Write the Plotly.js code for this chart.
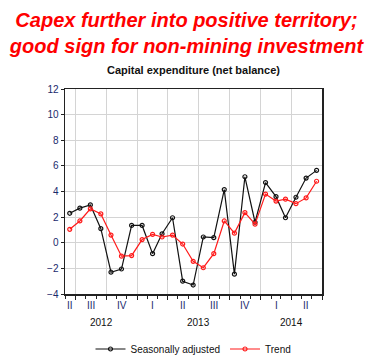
<!DOCTYPE html>
<html><head><meta charset="utf-8">
<script src="https://cdn.plot.ly/plotly-3.0.1.min.js"></script>
<style>html,body{margin:0;padding:0;background:#fff}#chart{width:373px;height:364px}</style>
</head><body><div id="chart"></div>
<script>
const months = ['2012-06','2012-07','2012-08','2012-09','2012-10','2012-11','2012-12',
  '2013-01','2013-02','2013-03','2013-04','2013-05','2013-06','2013-07','2013-08','2013-09','2013-10','2013-11','2013-12',
  '2014-01','2014-02','2014-03','2014-04','2014-05','2014-06'];
const seasonallyAdjusted = [2.3,2.7,2.95,1.1,-2.3,-2.05,1.35,1.35,-0.85,0.7,1.95,-3.0,-3.3,0.45,0.4,4.15,-2.45,5.15,1.6,4.7,3.6,1.95,3.55,5.05,5.65];
const trend = [1.05,1.7,2.65,2.25,0.6,-1.05,-1.0,0.25,0.65,0.45,0.6,-0.1,-1.45,-1.95,-0.85,1.7,0.75,2.35,1.45,3.8,3.25,3.4,3.05,3.5,4.8];
const quarters = ['2012-Q2','2012-Q3','2012-Q4','2013-Q1','2013-Q2','2013-Q3','2013-Q4','2014-Q1','2014-Q2'];
const years = ['2012','2013','2014'];
const romans = {1:'I',2:'II',3:'III',4:'IV'};

const xStart = '2012-06-01', xEnd = '2014-07-01';
const toMs = s => new Date(s + 'T00:00:00Z').getTime();
const fmt = ms => new Date(ms).toISOString().slice(0,10);
const clampMid = (a,b) => { const s = Math.max(toMs(a), toMs(xStart)), e = Math.min(toMs(b), toMs(xEnd)); return fmt((s+e)/2); };
const xs = months.map(m => m + '-15');

const navy = '#1a2a6c';
const plotTop = 89, plotBot = 294;
const py = px => (plotBot - px) / (plotBot - plotTop);
const annotations = [];
quarters.forEach(q => {
  const y = +q.slice(0,4), n = +q.slice(6);
  const sm = String(3*(n-1)+1).padStart(2,'0');
  const endY = n === 4 ? y+1 : y, em = n === 4 ? '01' : String(3*n+1).padStart(2,'0');
  annotations.push({x: clampMid(`${y}-${sm}-01`, `${endY}-${em}-01`), y: py(305), xref:'x', yref:'paper', text: romans[n], showarrow:false,
    font:{family:'Liberation Sans, Arial', size:10, color:navy}, yanchor:'middle'});
});
years.forEach(y => {
  annotations.push({x: clampMid(`${y}-01-01`, `${+y+1}-01-01`), y: py(322), xref:'x', yref:'paper', text: y, showarrow:false,
    font:{family:'Liberation Sans, Arial', size:10, color:'#111'}, yanchor:'middle'});
});
annotations.push({x:0.5, y:py(70), xref:'paper', yref:'paper', yanchor:'middle', text:'<b>Capital expenditure (net balance)</b>', showarrow:false,
  font:{family:'Liberation Sans, Arial', size:11, color:'#111'}});

const traces = [
  {x: xs, y: seasonallyAdjusted, name:'Seasonally adjusted', type:'scatter', mode:'lines+markers',
   line:{color:'#111', width:1.2}, marker:{symbol:'circle-open', size:4, color:'#111', line:{width:1.2}}},
  {x: xs, y: trend, name:'Trend', type:'scatter', mode:'lines+markers',
   line:{color:'#ff1a1a', width:1.2}, marker:{symbol:'circle-open', size:4, color:'#ff1a1a', line:{width:1.2}}}
];

const layout = {
  width:373, height:364,
  margin:{l:65, r:51, t:89, b:70, autoexpand:false},
  paper_bgcolor:'#fff', plot_bgcolor:'#fff',
  font:{family:'Liberation Sans, Arial', size:10, color:navy},
  title:{text:'<b><i>Capex further into positive territory;<br>good sign for non-mining investment</i></b>',
    font:{family:'Liberation Sans, Arial', size:20, color:'#ff0000'}, x:0.5, xanchor:'center', xref:'container',
    y:1 - 27/364, yref:'container', yanchor:'middle'},
  xaxis:{type:'date', range:[xStart, xEnd], tick0:'2012-07-01', dtick:'M3', showgrid:true, gridcolor:'#d4d4d4', gridwidth:1.2,
    showticklabels:false, ticks:'outside', ticklen:4, tickcolor:'#222', tickwidth:1,
    showline:true, mirror:true, linecolor:'#222', linewidth:1.5, zeroline:false, fixedrange:true,
    minor:{dtick:'M1', tick0:'2012-06-01', ticks:'outside', ticklen:3, tickcolor:'#222', showgrid:false}},
  yaxis:{range:[-4,12], dtick:2, tick0:0, showgrid:true, gridcolor:'#d4d4d4', gridwidth:1.2, zeroline:false,
    ticks:'outside', ticklen:3, tickcolor:'#222', showline:true, mirror:true, linecolor:'#222', linewidth:1.5,
    tickfont:{family:'Liberation Sans, Arial', size:10, color:navy}},
  showlegend:true,
  legend:{orientation:'h', x:0.5, xanchor:'center', y:py(349), yanchor:'middle',
    font:{family:'Liberation Sans, Arial', size:10, color:'#111'}},
  annotations: annotations
};
Plotly.newPlot('chart', traces, layout, {displayModeBar:false, staticPlot:true});
</script></body></html>
